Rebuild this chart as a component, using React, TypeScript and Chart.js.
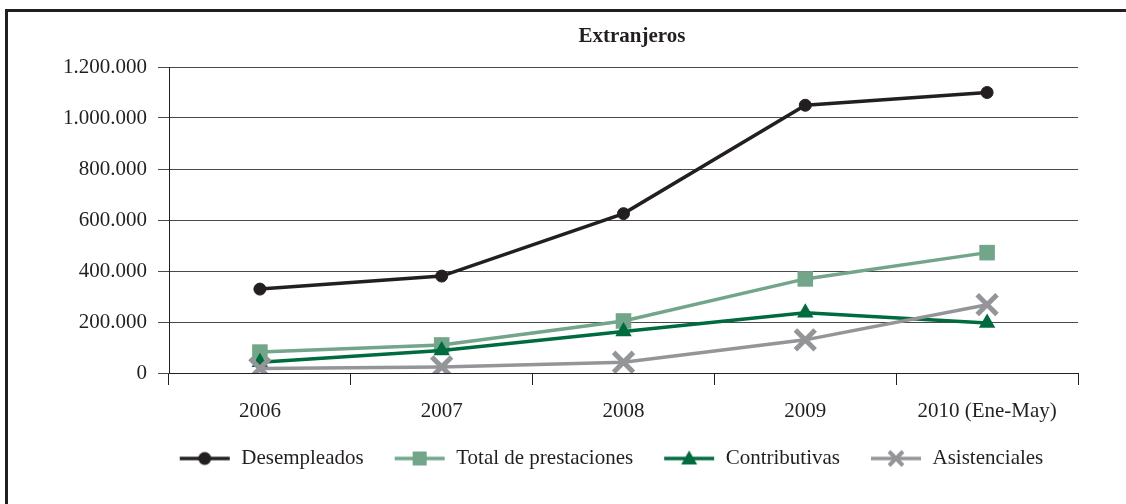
import React, { useEffect, useRef } from "react";
import { Chart, registerables } from "chart.js";

Chart.register(...registerables);

const categories = ["2006", "2007", "2008", "2009", "2010 (Ene-May)"];
const desempleados = [329000, 380000, 625000, 1050000, 1100000];
const totalPrestaciones = [82000, 110000, 204000, 369000, 472000];
const contributivas = [42000, 88000, 163000, 236000, 196000];
const asistenciales = [18000, 24000, 42000, 130000, 268000];
const seriesNames = ["Desempleados", "Total de prestaciones", "Contributivas", "Asistenciales"];
const yTicksMin = 0;
const yTicksMax = 1200000;
const yStep = 200000;
const titleText = "Extranjeros";

const FONT = "'Liberation Serif', 'Times New Roman', serif";
const INK = "#231f20";
const C_BLACK = "#231f20";
const C_LGREEN = "#72a58a";
const C_DGREEN = "#006b3f";
const C_GRAY = "#939598";

function makeSymbol(color: string, kind: string): HTMLCanvasElement {
  const c = document.createElement("canvas");
  c.width = 52;
  c.height = 22;
  const ctx = c.getContext("2d")!;
  ctx.strokeStyle = color;
  ctx.fillStyle = color;
  ctx.lineWidth = 3.5;
  ctx.beginPath();
  ctx.moveTo(1, 11);
  ctx.lineTo(51, 11);
  ctx.stroke();
  const cx = 26, cy = 11;
  if (kind === "circle") {
    ctx.beginPath();
    ctx.arc(cx, cy, 6.5, 0, Math.PI * 2);
    ctx.fill();
  } else if (kind === "rect") {
    ctx.fillRect(cx - 7, cy - 7, 14, 14);
  } else if (kind === "triangle") {
    ctx.beginPath();
    ctx.moveTo(cx, cy - 8);
    ctx.lineTo(cx + 8, cy + 6);
    ctx.lineTo(cx - 8, cy + 6);
    ctx.closePath();
    ctx.fill();
  } else {
    ctx.lineWidth = 4;
    ctx.beginPath();
    ctx.moveTo(cx - 7, cy - 7);
    ctx.lineTo(cx + 7, cy + 7);
    ctx.moveTo(cx + 7, cy - 7);
    ctx.lineTo(cx - 7, cy + 7);
    ctx.stroke();
  }
  return c;
}

const fmt = (v: number) => String(v).replace(/\B(?=(\d{3})+(?!\d))/g, ".");

export default function App() {
  const ref = useRef<HTMLCanvasElement | null>(null);

  useEffect(() => {
    if (!ref.current) return;
    const symbols = [
      makeSymbol(C_BLACK, "circle"),
      makeSymbol(C_LGREEN, "rect"),
      makeSymbol(C_DGREEN, "triangle"),
      makeSymbol(C_GRAY, "cross"),
    ];

    const titlePlugin = {
      id: "customTitle",
      afterDraw(chart: any) {
        const ctx = chart.ctx;
        ctx.save();
        ctx.font = `bold 21px ${FONT}`;
        ctx.fillStyle = INK;
        ctx.textAlign = "center";
        ctx.textBaseline = "middle";
        ctx.fillText(titleText, 632, 37);
        ctx.restore();
      },
    };

    const legendShift = {
      id: "legendShift",
      afterLayout(chart: any) {
        const lg = chart.legend;
        if (lg) {
          lg.left += 72;
          lg.right += 72;
          lg.top -= 7;
          lg.bottom -= 7;
        }
      },
    };

    const chart = new Chart(ref.current, {
      type: "line",
      data: {
        labels: categories,
        datasets: [
          {
            label: seriesNames[0],
            data: desempleados,
            borderColor: C_BLACK,
            backgroundColor: C_BLACK,
            borderWidth: 3.5,
            pointStyle: "circle",
            pointRadius: 6,
            pointBorderWidth: 1,
            pointBackgroundColor: C_BLACK,
            pointBorderColor: C_BLACK,
            order: 4,
          },
          {
            label: seriesNames[1],
            data: totalPrestaciones,
            borderColor: C_LGREEN,
            backgroundColor: C_LGREEN,
            borderWidth: 3.5,
            pointStyle: "rect",
            pointRadius: 11,
            pointBorderWidth: 0,
            pointBackgroundColor: C_LGREEN,
            pointBorderColor: C_LGREEN,
            order: 3,
          },
          {
            label: seriesNames[2],
            data: contributivas,
            borderColor: C_DGREEN,
            backgroundColor: C_DGREEN,
            borderWidth: 3.5,
            pointStyle: "triangle",
            pointRadius: 9.5,
            pointBorderWidth: 0,
            pointBackgroundColor: C_DGREEN,
            pointBorderColor: C_DGREEN,
            order: 2,
          },
          {
            label: seriesNames[3],
            data: asistenciales,
            borderColor: C_GRAY,
            backgroundColor: C_GRAY,
            borderWidth: 3.5,
            pointStyle: "crossRot",
            pointRadius: 14,
            pointBorderWidth: 5,
            pointBackgroundColor: C_GRAY,
            pointBorderColor: C_GRAY,
            order: 1,
          },
        ],
      },
      options: {
        responsive: false,
        animation: false,
        events: [],
        layout: { padding: { left: 0, right: 48, top: 67, bottom: 18 } },
        scales: {
          x: {
            offset: true,
            afterFit: (s: any) => {
              s.height = 52;
            },
            grid: {
              offset: true,
              drawOnChartArea: false,
              drawTicks: true,
              tickLength: 12,
              color: INK,
              lineWidth: 1,
            },
            border: { display: true, color: INK, width: 1 },
            ticks: {
              color: INK,
              padding: 14,
              maxRotation: 0,
              font: { family: FONT, size: 21 },
            },
          },
          y: {
            min: yTicksMin,
            max: yTicksMax,
            afterFit: (s: any) => {
              s.width = 169;
            },
            grid: {
              color: "#4a4a4a",
              lineWidth: 1,
              drawTicks: true,
              tickLength: 11,
            },
            border: { display: true, color: INK, width: 1 },
            ticks: {
              stepSize: yStep,
              color: INK,
              padding: 11,
              font: { family: FONT, size: 21 },
              callback: (v: any) => fmt(Number(v)),
            },
          },
        },
        plugins: {
          title: { display: false },
          tooltip: { enabled: false },
          legend: {
            display: true,
            position: "bottom",
            reverse: true,
            labels: {
              usePointStyle: true,
              pointStyleWidth: 52,
              padding: 30,
              color: INK,
              font: { family: FONT, size: 21 },
              generateLabels: (ch: any) => {
                const items = (Chart.defaults as any).plugins.legend.labels.generateLabels(ch);
                items.forEach((it: any) => {
                  it.pointStyle = symbols[it.datasetIndex];
                  it.lineWidth = 0;
                });
                return items;
              },
            },
          },
        },
      } as any,
      plugins: [titlePlugin, legendShift],
    });
    return () => chart.destroy();
  }, []);

  return (
    <div style={{ position: "absolute", left: 0, top: 0, width: 1126, height: 504, overflow: "hidden", background: "#fff" }}>
      <div
        style={{
          position: "absolute",
          left: 5,
          top: 9,
          width: 1118,
          height: 492,
          borderLeft: `3px solid ${INK}`,
          borderTop: `3px solid ${INK}`,
        }}
      />
      <canvas ref={ref} width={1126} height={504} style={{ position: "absolute", left: 0, top: 0 }} />
    </div>
  );
}
